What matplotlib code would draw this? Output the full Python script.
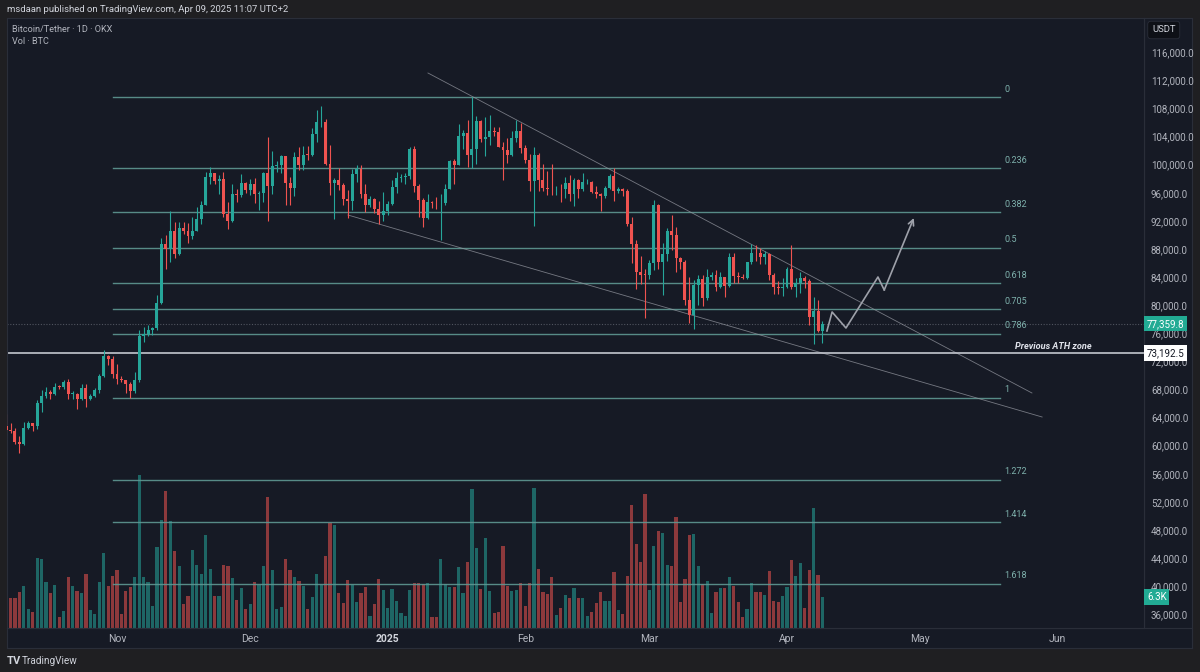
import numpy as np
import pandas as pd
import matplotlib
matplotlib.use('Agg')
import matplotlib.pyplot as plt
from matplotlib.transforms import blended_transform_factory

plt.rcParams['font.family'] = ['Roboto', 'DejaVu Sans']

# ---- data (BTC/USDT daily, OKX) -------------------------------------------
dates = pd.date_range('2024-10-07', '2025-04-09', freq='D')
first_open = 62800

close = [
    # Oct
    62240, 62130, 60580, 60270, 62450, 63190, 62850, 66080, 67040, 67620, 67420, 68400, 68360,
    69000, 67370, 67380, 66660, 68170, 66640, 67010, 67930, 69910, 72720, 72340, 70220,
    # Nov
    69480, 69340, 68740, 67810, 69370, 75640, 75900, 76540, 76700, 80370, 88700, 87950, 90580,
    87250, 91060, 90550, 89840, 90540, 92310, 94290, 98320, 98890, 97670, 97900, 93010, 91960,
    95860, 95640, 97460, 96410,
    # Dec
    97190, 95840, 96000, 98770, 96990, 99870, 99920, 101170, 97330, 96660, 101120, 100000, 101420,
    101400, 104300, 106060, 106140, 100170, 97460, 97790, 97100, 95130, 94840, 98680, 99400, 95790,
    94260, 95170, 93710, 92790, 93390,
    # Jan
    94420, 96890, 98110, 98240, 98360, 102250, 96940, 95040, 92480, 94700, 94560, 94490, 94530,
    96500, 100500, 99990, 104080, 104550, 101330, 102260, 106150, 103650, 103950, 104820, 104710,
    102590, 102080, 101330, 103730, 104740, 102430,
    # Feb
    100640, 97700, 101400, 97870, 96620, 96550, 96500, 96530, 96480, 97430, 95780, 97880, 96600,
    97500, 97570, 96120, 95770, 95540, 96640, 98350, 96190, 96550, 96250, 91550, 88700, 84700,
    84370, 84350,
    # Mar
    86060, 94270, 86120, 87220, 90620, 89960, 86740, 86150, 80730, 78600, 82860, 83720, 81070,
    83970, 84340, 82580, 84030, 82720, 86850, 84170, 84040, 83830, 86080, 87500, 87420, 86900,
    87230, 84350, 82650, 82390, 82550,
    # Apr
    85150, 82520, 83100, 83860, 83500, 78370, 79140, 76270, 77360,
]

high = [
    64480, 63200, 62540, 61320, 63420, 63480, 63280, 66480, 67950, 68420, 67890, 68990, 68690,
    69400, 69520, 67830, 67460, 68850, 68760, 67300, 68250, 70230, 73620, 72980, 72700,
    71600, 69950, 69380, 69000, 70550, 76400, 76950, 77250, 76930, 81500, 89600, 89950, 93430,
    91780, 91850, 91800, 91750, 92600, 94000, 94900, 99000, 99650, 98800, 98600, 98950, 94700,
    97300, 96600, 98700, 97600,
    97900, 98100, 96300, 99000, 103900, 101900, 100500, 101400, 101200, 98200, 101800, 102500,
    102600, 102600, 105200, 107800, 108350, 106500, 102800, 98100, 99500, 97400, 96400, 99400,
    99900, 99900, 97300, 95500, 95200, 94900, 96100,
    94900, 97800, 98900, 98700, 98800, 102500, 102700, 97200, 95300, 95800, 94900, 95400, 95900,
    97300, 100600, 100800, 105800, 104900, 106300, 109590, 107000, 106300, 106800, 107100, 105300,
    105400, 103200, 103800, 104800, 106400, 106000,
    102800, 101500, 102500, 101700, 100100, 99100, 100100, 96900, 97300, 98300, 98500, 98100,
    98000, 98800, 97900, 97700, 97000, 96000, 96900, 98700, 99500, 96800, 96700, 96500, 92500,
    89300, 87000, 85100,
    86500, 95000, 94400, 88900, 91000, 92800, 91200, 86800, 86500, 84000, 83600, 84300, 84300,
    85200, 84700, 85000, 84700, 84000, 87400, 87400, 84700, 84500, 86100, 88700, 88500, 88200,
    87700, 87500, 84600, 83500, 83900,
    85500, 88500, 83900, 84700, 84200, 83800, 81200, 80800, 77800,
]

low = [
    62130, 61860, 60300, 58900, 60080, 62400, 62040, 62440, 64800, 66750, 66700, 67180, 68020,
    68100, 66580, 66590, 65260, 66480, 65530, 66500, 66900, 67500, 69740, 71450, 69690,
    68820, 69050, 67480, 66800, 67470, 69000, 74800, 75550, 75700, 76480, 80220, 85100, 86200,
    86670, 87100, 90100, 88800, 89400, 90500, 91600, 94200, 97200, 97200, 95800, 92600, 90800,
    91800, 94700, 95400, 96000,
    95750, 94500, 93600, 94700, 92000, 95800, 99000, 98800, 94200, 94300, 95600, 99300, 99200,
    100600, 101200, 103300, 105300, 100000, 95700, 92200, 96400, 94200, 92400, 93500, 97600,
    95200, 93300, 94000, 93100, 91500, 92000,
    92800, 94200, 96000, 97500, 97300, 97900, 96100, 92500, 91200, 92200, 93800, 93700, 89250,
    94300, 96500, 97300, 99950, 102300, 99700, 99500, 100100, 103300, 101200, 102800, 104100,
    102500, 97800, 100300, 101300, 103300, 101600,
    100300, 96200, 91230, 96200, 96200, 95700, 95700, 95700, 94700, 95300, 94900, 94100, 95200,
    96300, 97300, 96000, 95200, 93400, 95200, 96500, 94900, 96000, 95600, 91300, 86000, 82300,
    83000, 78200,
    83700, 85000, 85100, 81500, 86300, 87800, 84700, 85100, 80000, 77500, 76600, 80000, 79900,
    80800, 83600, 82000, 82400, 81100, 82600, 83200, 83200, 83700, 83700, 85900, 86300, 85800,
    85800, 83600, 81600, 81600, 81300,
    82400, 82300, 81200, 81700, 82400, 77200, 74500, 76200, 74600,
]

# volume in thousands of BTC
volume_k = [
    9.4, 6.1, 6.1, 7.2, 8.4, 3.8, 3.3, 14.0, 13.9, 9.2, 7.1, 8.6, 2.3, 3.5, 10.3, 8.5, 7.5, 7.1,
    10.9, 3.6, 2.9, 9.3, 15.0, 8.4, 10.4,
    11.7, 2.9, 7.4, 8.2, 10.2, 30.7, 10.2, 9.2, 4.5, 16.3, 21.7, 27.4, 21.4, 15.4, 12.5, 4.9,
    6.5, 15.7, 12.7, 10.9, 18.7, 11.9, 6.4, 6.5, 12.7, 12.4, 10.1, 5.7, 8.0, 3.9,
    4.9, 9.2, 8.7, 12.5, 26.2, 11.6, 3.8, 4.3, 13.9, 11.7, 10.3, 9.5, 8.4, 3.8, 6.3, 10.8, 8.7,
    14.4, 21.1, 20.7, 7.1, 5.1, 9.6, 8.6, 5.2, 7.1, 8.2, 2.5, 4.8, 9.9, 7.6,
    4.1, 7.9, 5.4, 3.1, 2.5, 7.7, 9.1, 9.1, 8.9, 9.1, 2.2, 2.3, 13.9, 8.9, 8.3, 8.3, 12.3, 7.0,
    13.3, 27.9, 16.1, 7.8, 18.0, 7.5, 3.1, 3.2, 16.5, 8.5, 7.4, 7.7, 9.1,
    4.5, 9.1, 28.1, 11.9, 7.3, 6.8, 10.3, 2.7, 4.1, 6.7, 6.1, 8.0, 6.1, 6.1, 2.5, 3.3, 5.1, 7.2,
    5.4, 5.5, 11.3, 3.6, 2.9, 10.5, 24.7, 16.9, 13.2, 26.9,
    7.6, 16.4, 19.5, 19.1, 12.7, 12.5, 22.2, 5.2, 9.9, 18.7, 18.9, 12.4, 8.9, 9.5, 3.0, 7.2, 8.0,
    8.0, 10.2, 8.5, 5.3, 2.2, 3.8, 9.0, 7.2, 7.2, 6.6, 11.4, 5.5, 5.2, 6.4,
    8.3, 13.7, 10.4, 13.0, 4.0, 11.7, 24.0, 10.7, 6.2,
]

# drawings on the chart
fib_high = 109588
fib_low = 66800
fib_levels = [0, 0.236, 0.382, 0.5, 0.618, 0.705, 0.786, 1, 1.272, 1.414, 1.618]
fib_labels = ['0', '0.236', '0.382', '0.5', '0.618', '0.705', '0.786', '1', '1.272', '1.414', '1.618']
fib_start, fib_end, fib_label_date = '2024-10-31', '2025-05-19', '2025-05-20'

ath_zone = 73192.5
last_price = 77359.8
last_volume_label = '6.3K'

upper_trend_dates = ['2025-01-10 02:00', '2025-05-26 05:00']
upper_trend_prices = [113055, 67502]
lower_trend_dates = ['2024-12-23 01:00', '2025-05-28 12:00']
lower_trend_prices = [92840, 64085]

path_dates = ['2025-04-10 00:00', '2025-04-11 04:00', '2025-04-14 07:00',
              '2025-04-21 12:00', '2025-04-22 22:00', '2025-04-29 14:00']
path_prices = [76327, 79032, 76754, 84014, 82164, 92413]

month_ticks = ['2024-11-01', '2024-12-01', '2025-01-01', '2025-02-01', '2025-03-01',
               '2025-04-01', '2025-05-01', '2025-06-01']
month_labels = ['Nov', 'Dec', '2025', 'Feb', 'Mar', 'Apr', 'May', 'Jun']

# ---- helpers ---------------------------------------------------------------
origin = pd.Timestamp('2024-11-01')


def day_num(d):
    return np.asarray((pd.to_datetime(d) - origin) / pd.Timedelta(days=1), dtype=float)


BG = '#161a25'
FRAME = '#1f1f22'
BORDER = '#2a2e39'
TXT = '#b2b5be'
UP = '#26a69a'
DOWN = '#ef5350'
FIB = '#5f9893'

W, H = 1200, 672


def box(l, t, r, b):
    return [l / W, 1 - b / H, (r - l) / W, (b - t) / H]


fig = plt.figure(figsize=(12, 6.72), dpi=100, facecolor=FRAME)

# side panels (price scale, time scale)
ax_p = fig.add_axes(box(1144, 18, 1192, 648), zorder=0)
ax_t = fig.add_axes(box(7, 628, 1192, 648), zorder=0)
for a in (ax_p, ax_t):
    a.set_facecolor(BG)
    a.set_xticks([])
    a.set_yticks([])
    for s in a.spines.values():
        s.set_color(BORDER)
        s.set_linewidth(0.8)

ax = fig.add_axes(box(7, 18, 1144, 628), zorder=2)
ax_v = ax.twinx()
ax_v.set_zorder(1)
ax.set_zorder(3)
ax.patch.set_visible(False)
ax_v.patch.set_visible(True)
ax_v.set_facecolor(BG)

x = day_num(dates)
c = np.array(close, dtype=float)
o = np.concatenate([[first_open], c[:-1]])
hi = np.maximum(np.array(high, dtype=float), np.maximum(o, c))
lo = np.minimum(np.array(low, dtype=float), np.minimum(o, c))
up = c >= o
colors = np.where(up, UP, DOWN)

# volume
ax_v.bar(x, volume_k, width=0.72, color=colors, alpha=0.55, linewidth=0)
ax_v.set_ylim(0, 122)
ax_v.set_yticks([])
for s in ax_v.spines.values():
    s.set_visible(False)

# candles
ax.vlines(x, lo, hi, colors=colors, linewidth=0.8, zorder=3)
body = np.maximum(np.abs(c - o), 70)
ax.bar(x, body, bottom=np.minimum(o, c), width=0.66, color=colors, linewidth=0, zorder=4)

# fib retracement
fx0, fx1, flx = day_num(fib_start), day_num(fib_end), day_num(fib_label_date)
for lev, lab in zip(fib_levels, fib_labels):
    p = fib_high - lev * (fib_high - fib_low)
    ax.plot([fx0, fx1], [p, p], color=FIB, lw=1.0, alpha=0.9, zorder=2)
    ax.annotate(lab, (flx, p), xytext=(0, 8), textcoords='offset pixels',
                fontsize=6.5, color='#7fb2ad', ha='left', va='center')

# trend lines
ax.plot(day_num(upper_trend_dates), upper_trend_prices, color='#9598a1', lw=0.6, alpha=0.75, zorder=2)
ax.plot(day_num(lower_trend_dates), lower_trend_prices, color='#9598a1', lw=0.6, alpha=0.75, zorder=2)

# previous ATH zone
ax.axhline(ath_zone, color='#c4c7cf', lw=1.2, zorder=2)
ax.annotate('Previous ATH zone', (day_num('2025-05-22 10:00'), ath_zone), xytext=(0, 7),
            textcoords='offset pixels', fontsize=6.6, color='#e0e3eb', style='italic',
            fontweight='semibold', ha='left', va='center')

# last price line
ax.axhline(last_price, color='#50545f', lw=0.8, ls=(0, (1, 1.5)), zorder=1)

# projected path
px_, py_ = day_num(path_dates), path_prices
ax.plot(px_[:-1], py_[:-1], color='#9ea1aa', lw=1.2, zorder=5)
ax.annotate('', xy=(px_[-1], py_[-1]), xytext=(px_[-2], py_[-2]),
            arrowprops=dict(arrowstyle='->', color='#9ea1aa', lw=1.2,
                            shrinkA=0, shrinkB=0, mutation_scale=10), zorder=5)

# axes limits / scales
ax.set_xlim(-110 / 4.437, 1027 / 4.437)
ax.set_ylim(34050, 120883)

ax.yaxis.tick_right()
yt = np.arange(36000, 116001, 4000)
ax.set_yticks(yt)
ax.set_yticklabels([f'{v:,.1f}' for v in yt])
ax.tick_params(axis='y', length=0, pad=5, labelsize=7, labelcolor=TXT)

ax.set_xticks(day_num(month_ticks))
ax.set_xticklabels(month_labels)
ax.tick_params(axis='x', length=0, pad=4, labelsize=7.5, labelcolor=TXT)
for lbl in ax.get_xticklabels():
    if lbl.get_text() == '2025':
        lbl.set_fontweight('bold')
        lbl.set_color('#d1d4dc')

for s in ax.spines.values():
    s.set_color(BORDER)
    s.set_linewidth(0.8)

# price scale labels
tr_p = blended_transform_factory(ax.transAxes, ax.transData)
ax.text(1 + 3 / 1137, last_price, f'{last_price:,.1f}', transform=tr_p, fontsize=7,
        color='white', ha='left', va='center', clip_on=False, zorder=10,
        bbox=dict(boxstyle='square,pad=0.28', fc='#22ab94', ec='none'))
ax.text(1 + 3 / 1137, ath_zone, f'{ath_zone:,.1f}', transform=tr_p, fontsize=7,
        color='#131722', ha='left', va='center', clip_on=False, zorder=10,
        bbox=dict(boxstyle='square,pad=0.28', fc='white', ec='none'))
tr_v = blended_transform_factory(ax.transAxes, ax_v.transData)
ax.text(1 + 3 / 1137, volume_k[-1], last_volume_label, transform=tr_v, fontsize=7,
        color='white', ha='left', va='center', clip_on=False, zorder=10,
        bbox=dict(boxstyle='square,pad=0.28', fc='#22ab94', ec='none'))

# header / legend / footer texts
fig.text(7 / W, 1 - 10 / H, 'msdaan published on TradingView.com, Apr 09, 2025 11:07 UTC+2',
         fontsize=6.8, color='#d1d4dc', va='center', ha='left')
fig.text(12 / W, 1 - 29 / H, 'Bitcoin/Tether · 1D · OKX', fontsize=6.6, color=TXT, va='center')
fig.text(12 / W, 1 - 41 / H, 'Vol · BTC', fontsize=6.6, color=TXT, va='center')
fig.text(1152 / W, 1 - 30 / H, 'USDT', fontsize=6.8, color='#d1d4dc', va='center', ha='left',
         bbox=dict(boxstyle='round,pad=0.45,rounding_size=0.3', fc='#0e1016', ec=BORDER, lw=0.6))
fig.text(7 / W, 1 - 661 / H, 'TV', fontsize=8, fontweight='bold', color='#d1d4dc', va='center')
fig.text(22 / W, 1 - 661 / H, 'TradingView', fontsize=7.2, color='#d1d4dc', va='center')

fig.savefig('out.png', dpi=100, facecolor=FRAME)
